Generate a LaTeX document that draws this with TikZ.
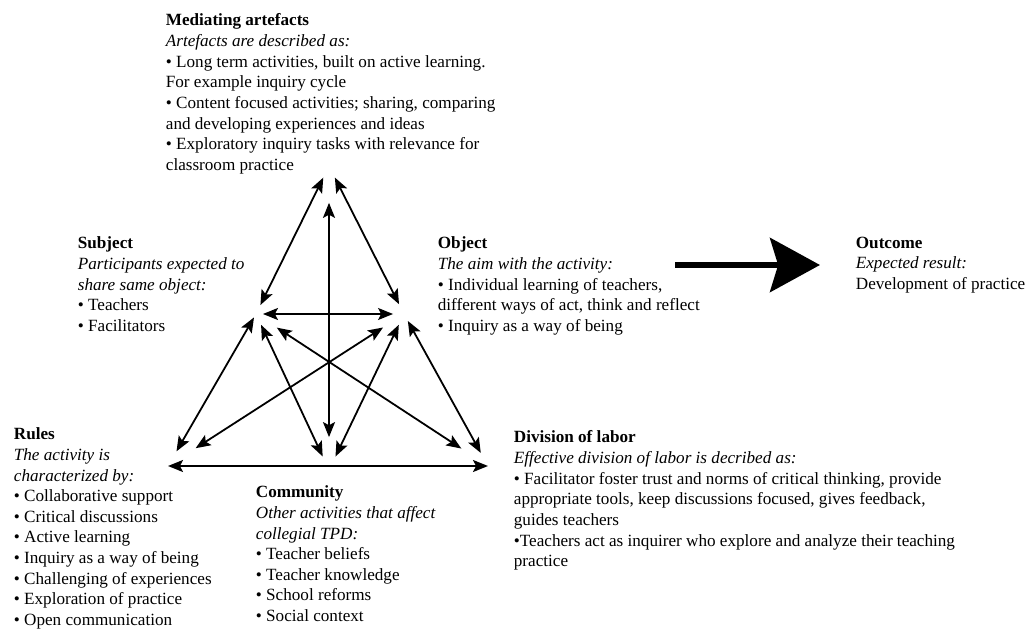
\documentclass[tikz,border=0pt]{standalone}
\usepackage{fontspec}
\setmainfont{Liberation Serif}
\usepackage{tikz}
\usetikzlibrary{arrows.meta}

\begin{document}
\begin{tikzpicture}[x=1bp, y=-1bp, line width=1.8pt,
    txt/.style={anchor=north west, inner sep=0pt, align=left,
        font=\fontsize{17.2}{20.7}\selectfont},
    link/.style={{Stealth[length=15pt,width=12pt,inset=3pt]}-{Stealth[length=15pt,width=12pt,inset=3pt]}}]
            \useasboundingbox (0,0) rectangle (1027,630);
            \node[txt] (artef) at (165,13) {\textbf{Mediating artefacts}\\
                \textit{Artefacts are described as:}\\
                • Long term activities, built on active learning.\\
                For example inquiry cycle\\
                • Content focused activities; sharing, comparing\\
                and developing experiences and ideas\\
                • Exploratory inquiry tasks with relevance for\\
                classroom practice};
            \node[txt] (subj) at (77,236) {\textbf{Subject}\\
                \textit{Participants expected to}\\
                \textit{share same object:}\\
                • Teachers\\
                • Facilitators};
            \node[txt] (obj) at (437,236) {\textbf{Object}\\
                \textit{The aim with the activity:}\\
                • Individual learning of teachers,\\
                different ways of act, think and reflect\\
                • Inquiry as a way of being};
            \node[txt] (outc) at (855,236) {\textbf{Outcome}\\
                \textit{Expected result:}\\
                Development of practice};
            \node[txt] (rules) at (13,427) {\textbf{Rules}\\
                \textit{The activity is}\\
                \textit{characterized by:}\\
                • Collaborative support\\
                • Critical discussions\\
                • Active learning\\
                • Inquiry as a way of being\\
                • Challenging of experiences\\
                • Exploration of practice\\
                • Open communication};
            \node[txt] (comm) at (255,485) {\textbf{Community}\\
                \textit{Other activities that affect}\\
                \textit{collegial TPD:}\\
                • Teacher beliefs\\
                • Teacher knowledge\\
                • School reforms\\
                • Social context};
            \node[txt] (divl) at (513,430) {\textbf{Division of labor}\\
                \textit{Effective division of labor is decribed as:}\\
                • Facilitator foster trust and norms of critical thinking, provide\\
                appropriate tools, keep discussions focused, gives feedback,\\
                guides teachers\\
                •Teachers act as inquirer who explore and analyze their teaching\\
                practice};
            \coordinate (vM) at (329,166);
            \coordinate (vS) at (256,314);
            \coordinate (vO) at (404,314);
            \coordinate (vR) at (168,466);
            \coordinate (vC) at (329,470);
            \coordinate (vD) at (488,466);
            \draw[link, shorten <=13pt, shorten >=10pt] (vM) -- (vS);
            \draw[link, shorten <=13pt, shorten >=11pt] (vM) -- (vO);
            \draw[link, shorten <=37pt, shorten >=33pt] (vM) -- (vC);
            \draw[link, shorten <=7pt, shorten >=11pt] (vS) -- (vO);
            \draw[link, shorten <=4pt, shorten >=17pt] (vS) -- (vR);
            \draw[link, shorten <=12pt, shorten >=15pt] (vS) -- (vC);
            \draw[link, shorten <=25pt, shorten >=32pt] (vS) -- (vD);
            \draw[link, shorten <=25pt, shorten >=33pt] (vO) -- (vR);
            \draw[link, shorten <=12pt, shorten >=15pt] (vO) -- (vC);
            \draw[link, shorten <=8pt, shorten >=15pt] (vO) -- (vD);
            \draw[link] (vR) -- (vD);
            \coordinate (aimA) at (675,265);
            \coordinate (aimB) at (820,265);
            \draw[line width=7pt, -{Stealth[length=50pt,width=54pt,inset=8pt]}]
                (aimA) -- (aimB);
        \end{tikzpicture}
\end{document}
